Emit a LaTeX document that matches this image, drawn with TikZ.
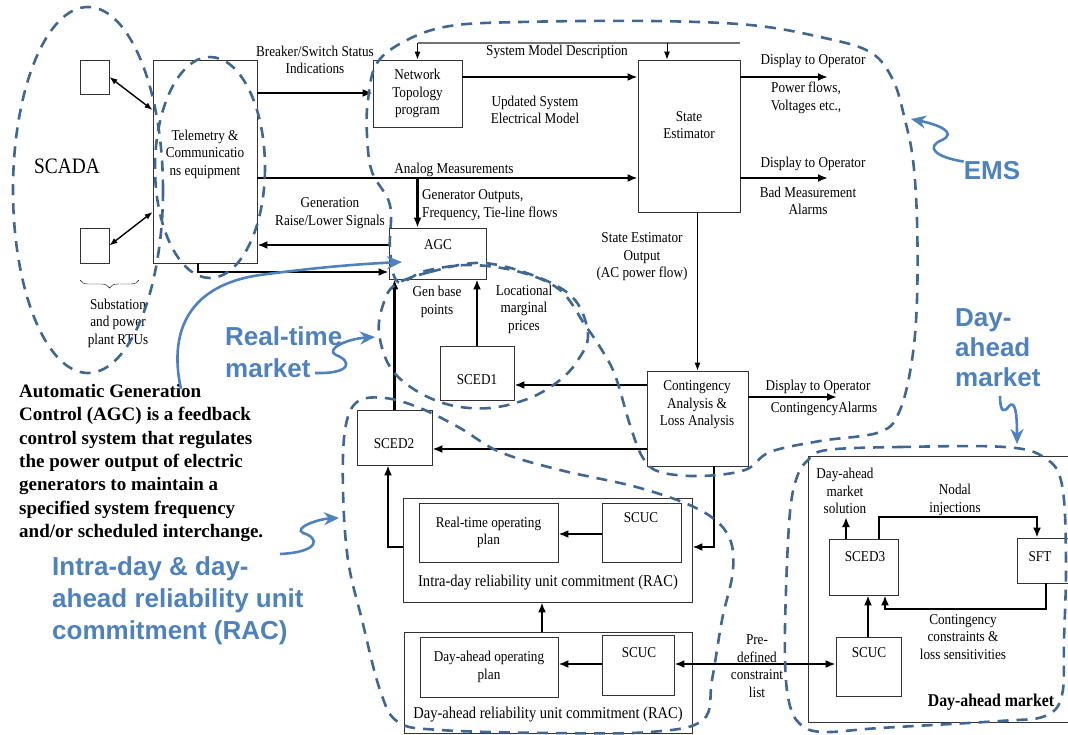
\documentclass[tikz,border=0pt]{standalone}
\usepackage{fontspec}
\setmainfont{Liberation Serif}
\newfontfamily\lblfont{Liberation Serif}[FakeStretch=0.88]
\newfontfamily\notefont{Liberation Sans}
\usepackage{tikz}
\usetikzlibrary{arrows.meta,positioning}
\usetikzlibrary{decorations.pathreplacing}
\definecolor{regBlue}{HTML}{3F6792}
\definecolor{noteBlue}{HTML}{4F81BD}
\newcommand{\lbl}{\lblfont\fontsize{15}{17.5}\selectfont}
\tikzset{bx/.style={draw=black!80, line width=0.8pt, inner sep=0pt}}
\tikzset{a/.style={draw, line width=2.2pt, -{Latex[length=10pt,width=8pt]}}}
\tikzset{t/.style={draw, line width=1pt, -{Latex[length=8pt,width=6pt]}}}
\tikzset{aa/.style={draw, line width=1.4pt, {Latex[length=8pt,width=6pt]}-{Latex[length=8pt,width=6pt]}}}
\tikzset{reg/.style={draw, regBlue, line width=2.6pt, dash pattern=on 11pt off 8pt}}
\tikzset{n/.style={draw, noteBlue, line width=2.6pt, -{Stealth[length=15pt,width=13pt]}}}
\tikzset{note/.style={font=\notefont\bfseries\fontsize{26}{32}\selectfont, text=noteBlue, align=left}}
\begin{document}
\begin{tikzpicture}[x=1pt,y=-1pt]
        \tikzstyle{every node}=[font=\lbl, align=center, inner sep=0pt]
        \useasboundingbox (0,0) rectangle (1068,735);
        %% SCADA
        \node (rtu1) at (94.5,77) [bx, minimum width=29, minimum height=34] {};
        \node (rtu2) at (94.5,245.5) [bx, minimum width=29, minimum height=35] {};
        \node (tele) at (205,161.5) [bx, minimum width=104, minimum height=203] {};
        \node (teleT) at (205,154) {Telemetry \&\\Communicatio\\ns equipment};
        \node (scada) at (67,166) {\fontsize{22}{24}\selectfont SCADA};
        \node (rtus) at (118,323) {Substation\\and power\\plant RTUs};
        \draw [decorate, decoration={brace, amplitude=8pt, mirror}] (80,280) -- (139,280);
        \draw [aa] (rtu1.east) -- (tele.west |- 0,110);
        \draw [aa] (rtu2.east) -- (tele.west |- 0,212);
        %% EMS
        \node (ntp) at (417.5,93.5) [bx, minimum width=89, minimum height=67] {Network\\Topology\\program};
        \node (se) at (689,136) [bx, minimum width=102, minimum height=152] {};
        \node (seT) at (689,125) {State\\Estimator};
        \node (agc) at (437.5,253.5) [bx, minimum width=97, minimum height=51] {};
        \node (agcT) at (438,245) {AGC};
        \node (cont) at (697.5,418.5) [bx, minimum width=101, minimum height=95] {};
        \node (contT) at (697,405) {Contingency\\Analysis \&\\Loss Analysis};
        \node (bswL) at (315,60) {Breaker/Switch Status\\Indications};
        \node (smdL) at (557,52) {System Model Description};
        \node (usemL) at (535,110) {Updated System\\Electrical Model};
        \node (anmL) at (454,170) {Analog Measurements};
        \node (gofL) at (422,205) [anchor=west, align=left] {Generator Outputs,\\Frequency, Tie-line flows};
        \node (grlL) at (330,213) {Generation\\Raise/Lower Signals};
        \node (dop1L) at (813,61) {Display to Operator};
        \node (pfL) at (806,98) {Power flows,\\Voltages etc.,};
        \node (dop2L) at (813,164) {Display to Operator};
        \node (bmaL) at (808,201) {Bad Measurement\\Alarms};
        \node (seoL) at (642,257) {State Estimator\\Output\\(AC power flow)};
        \node (dop3L) at (818,387) {Display to Operator};
        \node (caL) at (824,409) {ContingencyAlarms};
        \draw [a] (tele.east |- 0,93) -- (ntp.west |- 0,93);
        \draw [a] (tele.east |- 0,178) -- (se.west |- 0,178);
        \draw [a] (ntp.south |- 0,178) -- (ntp.south |- agc.north);
        \draw [a] (agc.west |- 0,245) -- (tele.east |- 0,245);
        \draw [a] (tele.south -| 198,0) |- (agc.west |- 0,272);
        \draw [a] (ntp.east |- 0,77) -- (se.west |- 0,77);
        \draw [black!55, line width=1.2pt] (ntp.north |- 0,43) -- (se.north east |- 0,43);
        \draw [t] (ntp.north |- 0,43) -- (ntp.north);
        \draw [t] (667,43) -- (se.north -| 667,0);
        \coordinate (dop1) at (828,77);
        \coordinate (dop2) at (828,178);
        \coordinate (dop3) at (837,397);
        \draw [a] (se.east |- dop1) -- (dop1);
        \draw [a] (se.east |- dop2) -- (dop2);
        \draw [t] (se.south -| cont.north) -- (cont.north);
        \draw [a] (cont.east |- dop3) -- (dop3);
        %% real-time market and RAC
        \node (sced1) at (477,373) [bx, minimum width=74, minimum height=54] {};
        \node (sced1T) at (477,380) {SCED1};
        \node (sced2) at (394.5,437.5) [bx, minimum width=75, minimum height=55] {};
        \node (sced2T) at (394,444) {SCED2};
        \node (gbpL) at (437,302) {Gen base\\points};
        \node (lmpL) at (524,309) {Locational\\marginal\\prices};
        \node (rac1) at (547.5,550) [bx, minimum width=289, minimum height=104] {};
        \node (rtplan) at (488.5,532.5) [bx, minimum width=139, minimum height=59] {Real-time operating\\plan};
        \node (scuc1) at (641.5,532.5) [bx, minimum width=79, minimum height=59] {};
        \node (scuc1T) at (641,518) {SCUC};
        \node (rac1T) at (548,583) {\fontsize{16.5}{18}\selectfont Intra-day reliability unit commitment (RAC)};
        \node (rac2) at (548,682.5) [bx, minimum width=288, minimum height=101] {};
        \node (daplan) at (489,667) [bx, minimum width=138, minimum height=60] {Day-ahead operating\\plan};
        \node (scuc2) at (638,665) [bx, minimum width=72, minimum height=60] {};
        \node (scuc2T) at (639,653) {SCUC};
        \node (rac2T) at (548,715) {\fontsize{16.5}{18}\selectfont Day-ahead reliability unit commitment (RAC)};
        \node (pdcl) at (757,666) {Pre-\\defined\\constraint\\list};
        \draw [a] (cont.west |- 0,385) -- (sced1.east |- 0,385);
        \draw [a] (cont.west |- 0,449) -- (sced2.east |- 0,449);
        \draw [a] (sced1.north) -- (sced1.north |- agc.south);
        \draw [a] (sced2.north) -- (sced2.north |- agc.south);
        \draw [a] (cont.south -| 714,0) |- (rac1.east |- 0,547);
        \draw [a] (scuc1.west |- 0,534) -- (rtplan.east |- 0,534);
        \draw [a] (rac1.west |- 0,547) -| (sced2.south -| 388,0);
        \draw [a] (rac2.north -| 542,0) -- (rac1.south -| 542,0);
        \draw [a] (scuc2.west |- 0,664) -- (daplan.east |- 0,664);
        %% day-ahead market
        \node (dam) at (941.5,589) [bx, minimum width=267, minimum height=266] {};
        \node (sced3) at (863.5,567) [bx, minimum width=69, minimum height=56] {};
        \node (sced3T) at (865,557) {SCED3};
        \node (sft) at (1044.5,560.5) [bx, minimum width=55, minimum height=45] {};
        \node (sftT) at (1040,557) {SFT};
        \node (scuc3) at (868.5,666.5) [bx, minimum width=65, minimum height=59] {};
        \node (scuc3T) at (869,653) {SCUC};
        \node (damT) at (991,702) {\bfseries\fontsize{18}{20}\selectfont Day-ahead market};
        \node (damsL) at (845,491) {Day-ahead\\market\\solution};
        \node (nodL) at (955,500) {Nodal\\injections};
        \node (ccL) at (963,637) {Contingency\\constraints \&\\loss sensitivities};
        \coordinate (dams) at (846,517);
        \draw [a, {Latex[length=10pt,width=8pt]}-{Latex[length=10pt,width=8pt]}] (scuc2.east |- 0,664) -- (scuc3.west |- 0,664);
        \draw [a] (scuc3.north -| 868,0) -- (sced3.south -| 868,0);
        \draw [a] (sced3.north -| dams) -- (dams);
        \draw [a] (sced3.north -| 879,0) -- (879,517) -| (sft.north -| 1037,0);
        \draw [a] (sft.south -| 1046,0) -- (1046,609) -| (sced3.south -| 885,0);
        %% dashed regions
        \draw [reg] (88,190) ellipse (75 and 183);
        \draw [reg] (210,167.5) ellipse (55 and 110.5);
        \draw [reg] plot [smooth cycle, tension=0.6] coordinates {(368,100) (377,63) (407,40) (450,26)
          (520,22) (650,21) (750,25) (820,37) (870,52) (893,80) (905,120) (913,160) (917,220)
          (917,300) (912,360) (900,410) (880,432) (820,441) (770,452) (745,470) (700,476)
          (660,472) (643,458) (630,425) (615,375) (600,347) (585,325) (560,290) (520,272)
          (470,265) (425,271) (398,282) (390,250) (390,205) (372,172) (367,135)};
        \draw [reg] plot [smooth cycle, tension=0.6] coordinates {(395,285) (430,272) (483,263)
          (540,278) (575,300) (588,335) (578,360) (560,380) (530,398) (490,408) (450,405)
          (415,390) (390,367) (379,333) (383,305)};
        \draw [reg] plot [smooth cycle, tension=0.6] coordinates {(357,402) (385,398) (420,408)
          (460,428) (500,452) (560,470) (640,488) (700,510) (728,535) (733,570) (722,620)
          (712,680) (703,720) (650,732) (550,733) (440,730) (398,722) (380,690) (362,620)
          (348,560) (343,490) (345,430)};
        \draw [reg] plot [smooth cycle, tension=0.6] coordinates {(827,450) (900,447) (1005,447)
          (1045,458) (1062,485) (1066,560) (1064,640) (1062,695) (1045,716) (1000,721)
          (880,728) (823,732) (800,724) (789,702) (785,660) (786,590) (790,512) (797,477)
          (808,460)};
        %% notes
        \node (agcDef) at (19,463) [anchor=west, align=left, font=\bfseries\fontsize{19}{23.3}\selectfont]
          {Automatic Generation\\Control (AGC) is a feedback\\control system that regulates\\the power output of electric\\generators to maintain a\\specified system frequency\\and/or scheduled interchange.};
        \node (ems) at (992,171) [note] {EMS};
        \node (rtm) at (225,352) [note, anchor=west] {Real-time\\market};
        \node (racN) at (52,601) [note, anchor=west] {Intra-day \& day-\\ahead reliability unit\\commitment (RAC)};
        \node (damN) at (955,348) [note, anchor=west, font=\notefont\bfseries\fontsize{26}{30}\selectfont] {Day-\\ahead\\market};
        \coordinate (emsTip) at (911,119);
        \coordinate (rtTail) at (315,373);
        \coordinate (rtTip) at (375,337);
        \coordinate (racTail) at (280,554);
        \coordinate (racTip) at (339,518);
        \coordinate (daTail) at (1000,396);
        \coordinate (daTip) at (1017,444);
        \coordinate (agcTail) at (181,389);
        \coordinate (agcTip) at (402,262);
        \draw [n] (ems.north west) .. controls (935,157) and (925,147) .. (942,140) .. controls (957,133) and (940,125) .. (emsTip);
        \draw [n] (rtTail) .. controls (352,374) and (352,361) .. (336,355) .. controls (325,350) and (345,339) .. (rtTip);
        \draw [n] (racTail) .. controls (320,552) and (320,538) .. (303,533) .. controls (293,528) and (318,519) .. (racTip);
        \draw [n] (daTail) .. controls (1000,414) and (1005,412) .. (1009,406) .. controls (1015,400) and (1017,412) .. (daTip);
        \draw [n] (agcTail) .. controls (168,330) and (190,285) .. (260,275) .. controls (320,267) and (360,264) .. (agcTip);
\end{tikzpicture}
\end{document}
